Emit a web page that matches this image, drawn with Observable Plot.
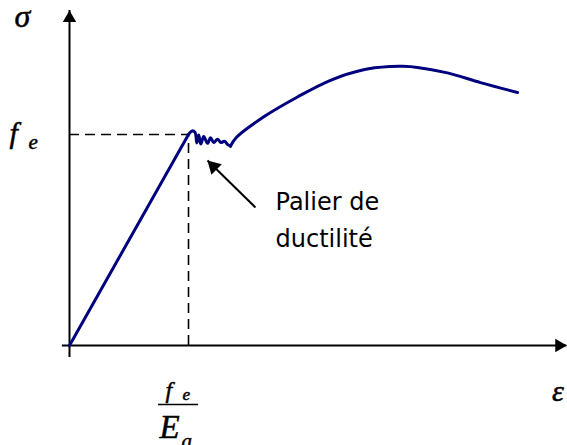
<!DOCTYPE html>
<html>
<head>
<meta charset="utf-8">
<script src="https://cdn.jsdelivr.net/npm/d3@7"></script>
<script src="https://cdn.jsdelivr.net/npm/@observablehq/plot@0.6"></script>
<style>
  html, body { margin: 0; padding: 0; background: #fff; }
</style>
</head>
<body>
<div id="chart"></div>
<script>
// Strain in units of fe/Ea, stress in units of fe
const elasticStrain = [0, 1.0];
const elasticStress = [0, 1.0];

const plateauStrain = [1.0, 1.030, 1.055, 1.070, 1.086, 1.103, 1.128, 1.160, 1.185, 1.212, 1.244, 1.272, 1.303, 1.330, 1.353];
const plateauStress = [1.0, 1.017, 1.010, 0.960, 0.998, 0.955, 0.990, 0.958, 0.985, 0.962, 0.978, 0.962, 0.968, 0.952, 0.945];

const hardeningStrain = [1.353, 1.400, 1.630, 1.916, 2.193, 2.471, 2.700, 2.800, 2.924, 3.176, 3.454, 3.765];
const hardeningStress = [0.945, 0.985, 1.083, 1.178, 1.257, 1.307, 1.322, 1.323, 1.318, 1.292, 1.246, 1.199];

// yield point (fe/Ea, fe)
const yieldPoint = [{x: 1, y: 1}];

// axis extents
const xAxisExtent = [-0.06, 4.18];
const yAxisExtent = [-0.057, 1.588];

// annotation
const annotationText = "Palier de\nductilité";
const annotationTail = {x: 1.563, y: 0.654};
const annotationTip = {x: 1.160, y: 0.877};

const toRows = (xs, ys) => xs.map((x, i) => ({x, y: ys[i]}));
const elastic = toRows(elasticStrain, elasticStress);
const plateau = toRows(plateauStrain, plateauStress);
const hardening = toRows(hardeningStrain, hardeningStress);

const navy = "#00007f";
const serif = "'Liberation Serif', 'DejaVu Serif', serif";
const mathStyle = {textAnchor: "start", lineAnchor: "bottom", fontStyle: "italic", fontFamily: serif,
  fill: "#000", stroke: "#000", strokeWidth: 0.5};

const chart = Plot.plot({
  width: 567,
  height: 445,
  margin: 0,
  x: {domain: [0, 1], range: [69, 188], axis: null},
  y: {domain: [0, 1], range: [345, 134], axis: null},
  style: {background: "#fff"},
  marks: [
    // dashed guides
    Plot.ruleY(yieldPoint, {y: "y", x1: 0, x2: "x", stroke: "#000", strokeWidth: 1.6, strokeDasharray: "10,6"}),
    Plot.ruleX(yieldPoint, {x: "x", y1: 0, y2: "y", stroke: "#000", strokeWidth: 1.6, strokeDasharray: "10,6"}),
    // axes
    Plot.ruleY([0], {x1: xAxisExtent[0], x2: xAxisExtent[1], stroke: "#000", strokeWidth: 2}),
    Plot.ruleX([0], {y1: yAxisExtent[0], y2: yAxisExtent[1], stroke: "#000", strokeWidth: 2}),
    Plot.dot([{x: xAxisExtent[1], y: 0}], {x: "x", y: "y", symbol: "triangle", r: 5, fill: "#000", rotate: 90, dx: -7.8}),
    Plot.dot([{x: 0, y: yAxisExtent[1]}], {x: "x", y: "y", symbol: "triangle", r: 5, fill: "#000", dy: 7.8}),
    // curve
    Plot.line(elastic, {x: "x", y: "y", stroke: navy, strokeWidth: 3}),
    Plot.line(plateau, {x: "x", y: "y", stroke: navy, strokeWidth: 3, curve: "catmull-rom", strokeLinejoin: "round"}),
    Plot.line(hardening, {x: "x", y: "y", stroke: navy, strokeWidth: 3, curve: "catmull-rom", strokeLinecap: "round"}),
    // annotation arrow
    Plot.link([{x1: annotationTail.x, y1: annotationTail.y, x2: annotationTip.x, y2: annotationTip.y}],
      {x1: "x1", y1: "y1", x2: "x2", y2: "y2", stroke: "#000", strokeWidth: 2}),
    Plot.dot([annotationTip], {x: "x", y: "y", symbol: "triangle", r: 5.5, fill: "#000", rotate: -45.6, dx: 6, dy: 6}),
    Plot.text([annotationTip], {x: () => 1.731, y: () => 0.765, text: () => annotationText,
      textAnchor: "start", lineAnchor: "top", lineHeight: 1.525, fontSize: 24, fontFamily: "'DejaVu Sans', sans-serif", fill: "#000"}),
    // axis labels
    Plot.text([{x: 0, y: yAxisExtent[1]}], {x: "x", y: "y", text: () => "σ", dx: -55, dy: 17, fontSize: 32, ...mathStyle}),
    Plot.text([{x: xAxisExtent[1], y: 0}], {x: "x", y: "y", text: () => "ε", dx: -15, dy: 55, fontSize: 30, ...mathStyle}),
    // fe label on y axis
    Plot.text([{x: 0, y: 1}], {x: "x", y: "y", text: () => "f", dx: -60, dy: 8, fontSize: 30, ...mathStyle}),
    Plot.text([{x: 0, y: 1}], {x: "x", y: "y", text: () => "e", dx: -41, dy: 14, fontSize: 21, ...mathStyle}),
    // fe / Ea label on x axis
    Plot.text(yieldPoint, {x: "x", y: () => 0, text: () => "f", dx: -23, dy: 52, fontSize: 24, ...mathStyle}),
    Plot.text(yieldPoint, {x: "x", y: () => 0, text: () => "e", dx: -6, dy: 54, fontSize: 17, ...mathStyle}),
    Plot.ruleY([0], {x1: 0.748, x2: 1.084, dy: 59, stroke: "#000", strokeWidth: 1.5}),
    Plot.text(yieldPoint, {x: "x", y: () => 0, text: () => "E", dx: -29, dy: 92, fontSize: 33, ...mathStyle}),
    Plot.text(yieldPoint, {x: "x", y: () => 0, text: () => "a", dx: -7, dy: 102, fontSize: 21, ...mathStyle})
  ]
});
document.getElementById("chart").appendChild(chart);
</script>
</body>
</html>
